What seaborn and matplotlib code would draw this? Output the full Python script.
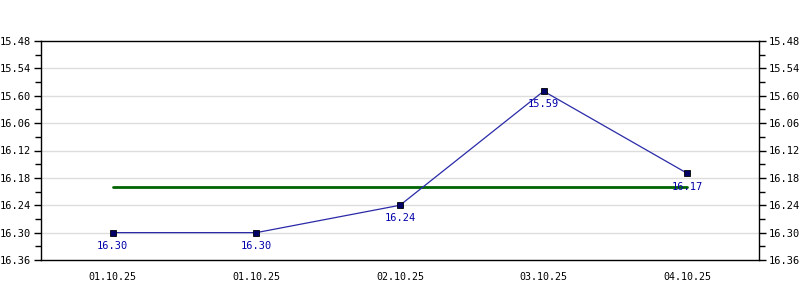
import matplotlib
matplotlib.use("Agg")
import matplotlib.pyplot as plt
import seaborn as sns
import pandas as pd
from matplotlib.ticker import FixedLocator

# data
dates = ["01.10.25", "01.10.25", "02.10.25", "03.10.25", "04.10.25"]
values = ["16.30", "16.30", "16.24", "15.59", "16.17"]
ytick_labels = ["15.48", "15.54", "15.60", "16.06", "16.12", "16.18", "16.24", "16.30", "16.36"]

def to_minutes(s):
    h, m = s.split(".")
    return int(h) * 60 + int(m)

ymin = to_minutes("15.48")
ymax = to_minutes("16.36")
ystep = 6

df = pd.DataFrame({"pos": range(len(dates)), "date": dates, "label": values,
                   "minutes": [to_minutes(v) for v in values]})
avg = df["minutes"].mean()

sns.set_theme(style="white")
plt.rcParams["font.family"] = ["DejaVu Sans Mono", "DejaVu Sans"]

fig = plt.figure(figsize=(8, 3), dpi=100)
ax = fig.add_axes([41 / 800, 1 - 260 / 300, 718 / 800, 219 / 300])

yticks = list(range(ymin, ymax + 1, ystep))
for y in yticks[1:-1]:
    ax.axhline(y, color="#dddddd", lw=1, zorder=0)

ax.plot([df["pos"].iloc[0], df["pos"].iloc[-1]], [avg, avg], color="#006400", lw=2, zorder=2)

sns.lineplot(data=df, x="pos", y="minutes", ax=ax, color="#2a2aa8", lw=0.9,
             marker="s", markersize=4.5, markerfacecolor="#000066",
             markeredgecolor="#000000", markeredgewidth=0.6, zorder=3)

for _, r in df.iterrows():
    ax.annotate(r["label"], (r["pos"], r["minutes"]), xytext=(0, -9.5),
                textcoords="offset points", ha="center", va="center",
                fontsize=7.5, color="#0000aa", zorder=4)

ax.set_xlim(-0.5, len(dates) - 0.5)
ax.set_ylim(ymax, ymin)
ax.set_xticks(df["pos"])
ax.set_xticklabels(dates)
ax.set_yticks(yticks)
ax.set_yticklabels(ytick_labels)
ax.yaxis.set_minor_locator(FixedLocator([y + ystep / 2 for y in yticks[:-1]]))
ax.set_xlabel("")
ax.set_ylabel("")

for s in ax.spines.values():
    s.set_color("black")
    s.set_linewidth(1)

ax.tick_params(axis="both", which="major", direction="out", length=5, width=1,
               color="black", labelsize=7.5, labelcolor="black", pad=2)
ax.tick_params(axis="x", labelsize=7.2, pad=4)
ax.tick_params(axis="y", which="both", left=True, right=True, labelleft=True, labelright=True)
ax.tick_params(axis="y", which="minor", direction="out", length=4, width=1, color="black")

fig.savefig("out.png", dpi=100)
